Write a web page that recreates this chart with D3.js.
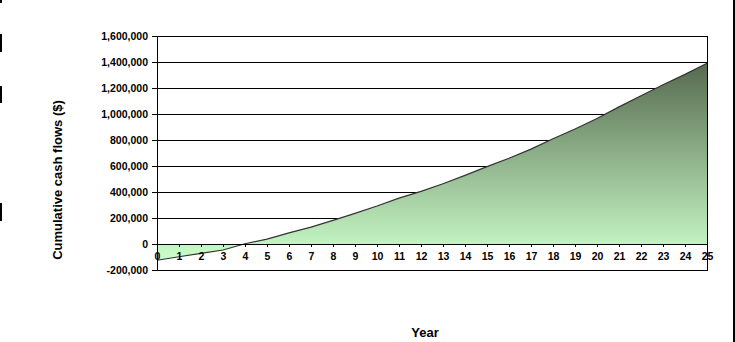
<!DOCTYPE html>
<html>
<head>
<meta charset="utf-8">
<script src="https://cdn.jsdelivr.net/npm/d3@7"></script>
<style>
  body { margin: 0; background: #fff; }
  svg { display: block; font-family: "Liberation Sans", Arial, sans-serif; }
  .tick-label { font-size: 10.5px; font-weight: bold; fill: #000; }
  .axis-title { font-size: 13px; font-weight: bold; fill: #000; }
</style>
</head>
<body>
<div id="chart"></div>
<script>
// Data
const years = d3.range(0, 26);
const cumulativeCashFlows = [
  -125000, -98000, -72000, -46000, 2000, 38000, 85000, 130000, 182000, 236000,
  292000, 353000, 405000, 463000, 528000, 595000, 660000, 730000, 810000, 885000,
  965000, 1055000, 1140000, 1225000, 1305000, 1390000
];
const yTicks = [-200000, 0, 200000, 400000, 600000, 800000, 1000000, 1200000, 1400000, 1600000];

const data = years.map((y, i) => ({ year: y, value: cumulativeCashFlows[i] }));

// Dimensions
const width = 735;
const height = 342;
const margin = { top: 36, right: 28, bottom: 72, left: 157 };

const svg = d3.select("#chart")
  .append("svg")
    .attr("width", width)
    .attr("height", height);

const x = d3.scaleLinear()
  .domain([0, 25])
  .range([margin.left, width - margin.right]);

const y = d3.scaleLinear()
  .domain([-200000, 1600000])
  .range([height - margin.bottom, margin.top]);

// Gradient for the area
const defs = svg.append("defs");
const grad = defs.append("linearGradient")
    .attr("id", "area-gradient")
    .attr("x1", 0).attr("y1", 1)
    .attr("x2", 0).attr("y2", 0);
grad.append("stop").attr("offset", "0%").attr("stop-color", "#ccffcc");
grad.append("stop").attr("offset", "100%").attr("stop-color", "#566a4e");

// Gridlines
svg.append("g")
    .attr("stroke", "#000")
    .attr("shape-rendering", "crispEdges")
  .selectAll("line")
  .data(yTicks)
  .join("line")
    .attr("x1", margin.left)
    .attr("x2", width - margin.right)
    .attr("y1", d => y(d))
    .attr("y2", d => y(d));

// Area
const area = d3.area()
  .x(d => x(d.year))
  .y0(y(0))
  .y1(d => y(d.value));

svg.append("path")
    .datum(data)
    .attr("fill", "url(#area-gradient)")
    .attr("d", area);

const line = d3.line()
  .x(d => x(d.year))
  .y(d => y(d.value));

svg.append("path")
    .datum(data)
    .attr("fill", "none")
    .attr("stroke", "#333")
    .attr("stroke-width", 1.2)
    .attr("d", line);

// Zero line redrawn on top
svg.append("line")
    .attr("x1", margin.left)
    .attr("x2", width - margin.right)
    .attr("y1", y(0))
    .attr("y2", y(0))
    .attr("stroke", "#000")
    .attr("shape-rendering", "crispEdges");

// Plot border
svg.append("rect")
    .attr("x", margin.left)
    .attr("y", margin.top)
    .attr("width", width - margin.right - margin.left)
    .attr("height", height - margin.bottom - margin.top)
    .attr("fill", "none")
    .attr("stroke", "#000")
    .attr("shape-rendering", "crispEdges");

// Y axis
const yAxis = svg.append("g")
    .attr("transform", `translate(${margin.left},0)`)
    .call(d3.axisLeft(y)
      .tickValues(yTicks)
      .tickSize(5)
      .tickPadding(4)
      .tickFormat(d3.format(",")));
yAxis.select(".domain").remove();
yAxis.attr("font-size", null).attr("font-family", null);
yAxis.selectAll(".tick line").attr("stroke", "#000").attr("shape-rendering", "crispEdges");
yAxis.selectAll(".tick text")
    .attr("class", "tick-label")
    .text(d => d < 0 ? "-" + d3.format(",")(-d) : d3.format(",")(d));

// X axis (crosses at zero)
const xAxis = svg.append("g")
    .attr("transform", `translate(0,${y(0)})`)
    .call(d3.axisBottom(x)
      .tickValues(years)
      .tickSize(3)
      .tickPadding(6)
      .tickFormat(d3.format("d")));
xAxis.select(".domain").remove();
xAxis.attr("font-size", null).attr("font-family", null);
xAxis.selectAll(".tick line").attr("stroke", "#000").attr("shape-rendering", "crispEdges");
xAxis.selectAll(".tick text").attr("class", "tick-label");

// Axis titles
svg.append("text")
    .attr("class", "axis-title")
    .attr("transform", `translate(62,${(margin.top + height - margin.bottom) / 2 + 27}) rotate(-90)`)
    .attr("text-anchor", "middle")
    .text("Cumulative cash flows ($)");

svg.append("text")
    .attr("class", "axis-title")
    .attr("x", 425)
    .attr("y", 337)
    .attr("text-anchor", "middle")
    .text("Year");

// Outer frame fragments
const frame = svg.append("g")
    .attr("stroke", "#000")
    .attr("stroke-width", 2)
    .attr("shape-rendering", "crispEdges");
frame.append("line").attr("x1", 734).attr("x2", 734).attr("y1", 0).attr("y2", height);
[[0, 3], [34, 52], [86, 103], [203, 221]].forEach(([a, b]) => {
  frame.append("line").attr("x1", 1).attr("x2", 1).attr("y1", a).attr("y2", b);
});
</script>
</body>
</html>
